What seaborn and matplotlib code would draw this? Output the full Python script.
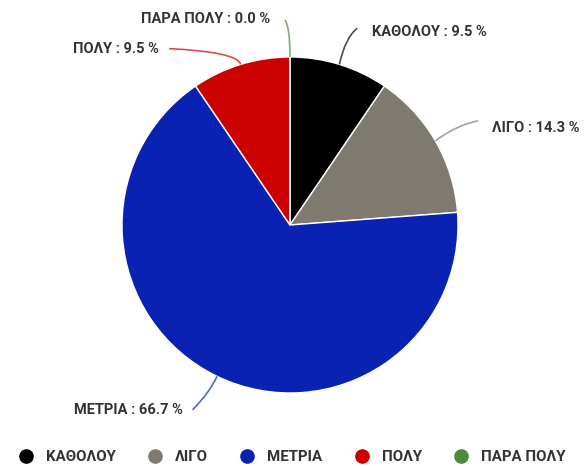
import numpy as np
import matplotlib
matplotlib.use("Agg")
import matplotlib.pyplot as plt
from matplotlib.path import Path
from matplotlib.patches import PathPatch
from matplotlib.lines import Line2D
import seaborn as sns

categories = ["ΚΑΘΟΛΟΥ", "ΛΙΓΟ", "ΜΕΤΡΙΑ", "ΠΟΛΥ", "ΠΑΡΑ ΠΟΛΥ"]
percentages = [9.5, 14.3, 66.7, 9.5, 0.0]
colors = ["#000000", "#7f7a70", "#0a22b2", "#cc0000", "#4a8a3a"]

sns.set_theme(style="white")
plt.rcParams["font.family"] = ["Roboto", "DejaVu Sans"]

W, H = 586, 466
fig = plt.figure(figsize=(W / 100, H / 100), dpi=100)
cx, cy, r = 290, 225, 168
ax = fig.add_axes([(cx - r) / W, (H - cy - r) / H, 2 * r / W, 2 * r / H])

wedges, _ = ax.pie(percentages, colors=colors, startangle=90, counterclock=False,
                   wedgeprops=dict(edgecolor="white", linewidth=1.0))
ax.set_xlim(-1, 1)
ax.set_ylim(-1, 1)
ax.set_aspect("equal")
ax.axis("off")

# leader-line geometry (elbow and end points in pie units) and label anchors
elbows = [(0.33, 1.12), (1.0, 0.6), (-0.48, -1.0), (-0.31, 1.03), (0.0, 1.18)]
ends = [(0.40, 1.17), (1.12, 0.62), (-0.58, -1.10), (-0.72, 1.05), (-0.03, 1.22)]
text_pos = [(0.49, 1.15, "left"), (1.2, 0.58, "left"), (-0.64, -1.10, "right"),
            (-0.78, 1.05, "right"), (-0.12, 1.225, "right")]

for w, pct, col, el, en, (tx, ty, ha), cat in zip(wedges, percentages, colors,
                                                     elbows, ends, text_pos, categories):
    mid = np.deg2rad((w.theta1 + w.theta2) / 2)
    start = (np.cos(mid), np.sin(mid))
    path = Path([start, el, en], [Path.MOVETO, Path.CURVE3, Path.CURVE3])
    ax.add_patch(PathPatch(path, fill=False, edgecolor=col, lw=1.2, alpha=0.7,
                           clip_on=False))
    ax.text(tx, ty, f"{cat} : {pct:.1f} %", ha=ha, va="center", fontsize=10.5,
            fontweight="bold", color="#333333", clip_on=False)

handles = [Line2D([], [], marker="o", linestyle="", markersize=9.5,
                  markerfacecolor=c, markeredgecolor=c) for c in colors]
fig.legend(handles, categories, loc="center", bbox_to_anchor=(0.497, 9 / H),
           ncol=5, frameon=False, handletextpad=0.75, columnspacing=2.0,
           handlelength=1.2, prop=dict(weight="bold", size=10.8),
           labelcolor="#333333")

fig.savefig("out.png", dpi=100, facecolor="white")
